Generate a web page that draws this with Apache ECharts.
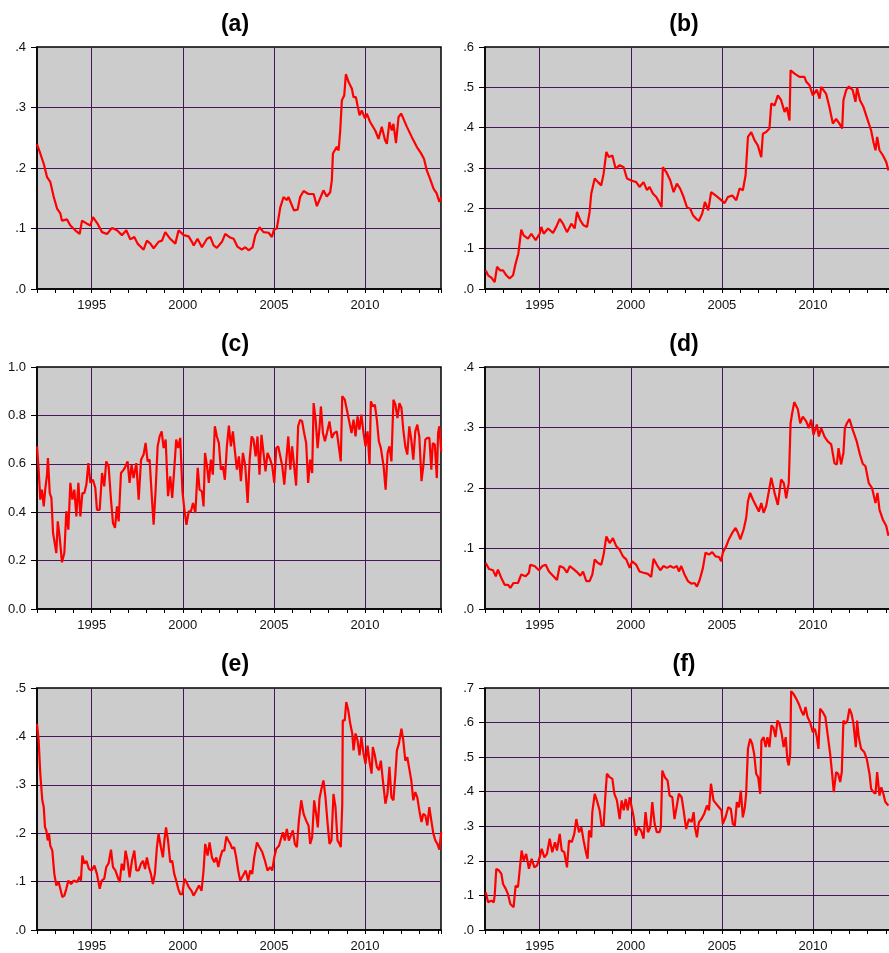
<!DOCTYPE html>
<html>
<head>
<meta charset="utf-8">
<script src="https://cdn.jsdelivr.net/npm/echarts@6/dist/echarts.min.js"></script>
<style>
  html, body { margin: 0; padding: 0; background: #fff; }
  #chart { width: 889px; height: 953px; }
</style>
</head>
<body>
<div id="chart"></div>
<script>
// panel titles and y-axis maxima
const panelTitles = ['(a)', '(b)', '(c)', '(d)', '(e)', '(f)']
const yMax = [0.4, 0.6, 1.0, 0.4, 0.5, 0.7]
const yStep = [0.1, 0.1, 0.2, 0.1, 0.1, 0.1]
const labelYears = [1995, 2000, 2005, 2010]

// [year, value]
const seriesA = [
  [1992.0, 0.239], [1992.18, 0.224], [1992.37, 0.207], [1992.55, 0.185], [1992.73, 0.177],
  [1992.92, 0.152], [1993.1, 0.133], [1993.28, 0.125], [1993.37, 0.113], [1993.65, 0.115],
  [1993.83, 0.105], [1994.1, 0.097], [1994.34, 0.091], [1994.47, 0.113], [1994.74, 0.108],
  [1994.93, 0.105], [1995.07, 0.119], [1995.3, 0.109], [1995.57, 0.094], [1995.84, 0.091],
  [1996.12, 0.101], [1996.39, 0.097], [1996.66, 0.089], [1996.9, 0.097], [1997.12, 0.082],
  [1997.34, 0.086], [1997.52, 0.075], [1997.85, 0.065], [1998.03, 0.080], [1998.22, 0.075],
  [1998.4, 0.067], [1998.67, 0.078], [1998.86, 0.080], [1999.04, 0.094], [1999.31, 0.083],
  [1999.59, 0.075], [1999.77, 0.097], [2000.05, 0.089], [2000.32, 0.087], [2000.5, 0.078],
  [2000.6, 0.072], [2000.81, 0.083], [2001.05, 0.069], [2001.33, 0.083], [2001.51, 0.086],
  [2001.69, 0.072], [2001.87, 0.068], [2002.15, 0.078], [2002.33, 0.091], [2002.6, 0.085],
  [2002.79, 0.083], [2003.0, 0.070], [2003.24, 0.065], [2003.43, 0.069], [2003.61, 0.064],
  [2003.83, 0.069], [2003.98, 0.089], [2004.21, 0.102], [2004.43, 0.094], [2004.71, 0.093],
  [2004.89, 0.086], [2005.0, 0.098], [2005.16, 0.100], [2005.35, 0.135], [2005.53, 0.152],
  [2005.7, 0.147], [2005.8, 0.152], [2006.1, 0.130], [2006.3, 0.131], [2006.44, 0.152],
  [2006.63, 0.162], [2006.9, 0.157], [2007.18, 0.157], [2007.36, 0.137], [2007.54, 0.150],
  [2007.72, 0.163], [2007.9, 0.153], [2008.09, 0.160], [2008.18, 0.180], [2008.24, 0.224],
  [2008.45, 0.235], [2008.55, 0.229], [2008.64, 0.262], [2008.73, 0.312], [2008.86, 0.320],
  [2008.95, 0.355], [2009.1, 0.342], [2009.28, 0.331], [2009.37, 0.317], [2009.5, 0.317],
  [2009.7, 0.287], [2009.82, 0.295], [2010.0, 0.282], [2010.1, 0.290], [2010.28, 0.276],
  [2010.56, 0.262], [2010.74, 0.248], [2010.92, 0.268], [2011.1, 0.246], [2011.2, 0.240],
  [2011.34, 0.276], [2011.47, 0.262], [2011.56, 0.273], [2011.7, 0.241], [2011.84, 0.284],
  [2011.98, 0.290], [2012.1, 0.282], [2012.3, 0.268], [2012.57, 0.251], [2012.84, 0.235],
  [2013.06, 0.225], [2013.24, 0.215], [2013.39, 0.196], [2013.57, 0.182], [2013.76, 0.166],
  [2013.93, 0.158], [2014.08, 0.144], [2014.18, 0.152]
]

const seriesB = [
  [1992.04, 0.046], [1992.17, 0.034], [1992.35, 0.028], [1992.53, 0.017], [1992.66, 0.055],
  [1992.84, 0.046], [1992.99, 0.046], [1993.17, 0.034], [1993.35, 0.026], [1993.54, 0.034],
  [1993.68, 0.063], [1993.83, 0.088], [1993.99, 0.147], [1994.12, 0.133], [1994.36, 0.125],
  [1994.54, 0.137], [1994.78, 0.121], [1995.0, 0.137], [1995.09, 0.154], [1995.22, 0.137],
  [1995.46, 0.150], [1995.73, 0.139], [1995.91, 0.154], [1996.1, 0.174], [1996.28, 0.162],
  [1996.5, 0.141], [1996.74, 0.162], [1996.92, 0.150], [1997.05, 0.191], [1997.23, 0.170],
  [1997.41, 0.158], [1997.6, 0.154], [1997.74, 0.191], [1997.83, 0.236], [1998.02, 0.274],
  [1998.2, 0.265], [1998.38, 0.257], [1998.51, 0.286], [1998.66, 0.340], [1998.8, 0.327],
  [1998.99, 0.331], [1999.17, 0.298], [1999.39, 0.307], [1999.61, 0.302], [1999.79, 0.274],
  [2000.03, 0.269], [2000.3, 0.265], [2000.48, 0.253], [2000.7, 0.265], [2000.89, 0.245],
  [2001.03, 0.253], [2001.22, 0.236], [2001.4, 0.228], [2001.58, 0.213], [2001.69, 0.203],
  [2001.76, 0.302], [2001.95, 0.290], [2002.17, 0.269], [2002.35, 0.240], [2002.53, 0.261],
  [2002.71, 0.249], [2002.9, 0.228], [2003.08, 0.203], [2003.26, 0.199], [2003.41, 0.183],
  [2003.59, 0.174], [2003.74, 0.169], [2003.92, 0.187], [2004.07, 0.216], [2004.25, 0.195],
  [2004.41, 0.240], [2004.65, 0.232], [2004.87, 0.224], [2005.15, 0.213], [2005.33, 0.228],
  [2005.57, 0.232], [2005.79, 0.220], [2005.97, 0.249], [2006.15, 0.245], [2006.3, 0.282],
  [2006.43, 0.377], [2006.61, 0.389], [2006.79, 0.369], [2006.97, 0.356], [2007.16, 0.327],
  [2007.25, 0.385], [2007.43, 0.389], [2007.61, 0.398], [2007.71, 0.460], [2007.89, 0.455],
  [2008.07, 0.480], [2008.25, 0.468], [2008.44, 0.439], [2008.56, 0.451], [2008.71, 0.418],
  [2008.77, 0.542], [2008.99, 0.534], [2009.26, 0.526], [2009.53, 0.526], [2009.63, 0.514],
  [2009.81, 0.505], [2009.99, 0.480], [2010.21, 0.494], [2010.36, 0.472], [2010.45, 0.501],
  [2010.72, 0.484], [2010.9, 0.451], [2011.09, 0.410], [2011.27, 0.422], [2011.45, 0.410],
  [2011.6, 0.398], [2011.67, 0.468], [2011.82, 0.493], [2011.97, 0.502], [2012.18, 0.493],
  [2012.33, 0.464], [2012.42, 0.499], [2012.58, 0.468], [2012.77, 0.451], [2012.95, 0.426],
  [2013.19, 0.393], [2013.32, 0.364], [2013.43, 0.344], [2013.52, 0.377], [2013.65, 0.344],
  [2013.84, 0.331], [2014.02, 0.315], [2014.14, 0.294]
]

const seriesC = [
  [1992.0, 0.672], [1992.09, 0.576], [1992.18, 0.452], [1992.27, 0.493], [1992.37, 0.424],
  [1992.46, 0.500], [1992.55, 0.555], [1992.6, 0.624], [1992.7, 0.479], [1992.79, 0.459],
  [1992.88, 0.314], [1992.97, 0.273], [1993.06, 0.231], [1993.14, 0.362], [1993.24, 0.300],
  [1993.37, 0.193], [1993.5, 0.231], [1993.61, 0.404], [1993.72, 0.328], [1993.83, 0.521],
  [1993.94, 0.452], [1994.05, 0.493], [1994.16, 0.383], [1994.27, 0.521], [1994.38, 0.383],
  [1994.49, 0.479], [1994.6, 0.479], [1994.71, 0.514], [1994.82, 0.603], [1994.93, 0.521],
  [1995.07, 0.534], [1995.2, 0.500], [1995.29, 0.410], [1995.44, 0.410], [1995.57, 0.562],
  [1995.69, 0.507], [1995.8, 0.610], [1995.93, 0.590], [1996.06, 0.452], [1996.17, 0.355],
  [1996.28, 0.335], [1996.39, 0.424], [1996.48, 0.362], [1996.61, 0.562], [1996.76, 0.576],
  [1996.86, 0.590], [1996.97, 0.610], [1997.08, 0.521], [1997.19, 0.596], [1997.3, 0.541],
  [1997.45, 0.603], [1997.58, 0.452], [1997.71, 0.617], [1997.85, 0.638], [1997.96, 0.686],
  [1998.07, 0.610], [1998.18, 0.617], [1998.31, 0.452], [1998.4, 0.348], [1998.51, 0.493],
  [1998.62, 0.672], [1998.73, 0.713], [1998.84, 0.734], [1998.95, 0.665], [1999.06, 0.700],
  [1999.19, 0.466], [1999.31, 0.548], [1999.42, 0.459], [1999.53, 0.576], [1999.64, 0.700],
  [1999.75, 0.665], [1999.86, 0.707], [1999.98, 0.486], [2000.09, 0.410], [2000.2, 0.348],
  [2000.33, 0.404], [2000.45, 0.404], [2000.56, 0.438], [2000.69, 0.397], [2000.82, 0.583],
  [2000.92, 0.493], [2001.05, 0.486], [2001.14, 0.424], [2001.22, 0.645], [2001.33, 0.590],
  [2001.43, 0.521], [2001.54, 0.617], [2001.65, 0.555], [2001.76, 0.755], [2001.87, 0.713],
  [2001.98, 0.686], [2002.09, 0.576], [2002.2, 0.590], [2002.31, 0.534], [2002.42, 0.672],
  [2002.53, 0.758], [2002.64, 0.672], [2002.75, 0.734], [2002.86, 0.652], [2002.97, 0.576],
  [2003.08, 0.631], [2003.19, 0.528], [2003.3, 0.645], [2003.43, 0.590], [2003.56, 0.438],
  [2003.67, 0.617], [2003.78, 0.713], [2003.88, 0.700], [2004.0, 0.631], [2004.1, 0.713],
  [2004.21, 0.555], [2004.32, 0.720], [2004.43, 0.645], [2004.54, 0.569], [2004.65, 0.645],
  [2004.8, 0.617], [2004.91, 0.590], [2005.02, 0.521], [2005.13, 0.665], [2005.24, 0.672],
  [2005.35, 0.631], [2005.46, 0.590], [2005.57, 0.514], [2005.68, 0.617], [2005.79, 0.713],
  [2005.9, 0.576], [2006.0, 0.672], [2006.11, 0.590], [2006.22, 0.510], [2006.33, 0.755],
  [2006.44, 0.782], [2006.55, 0.775], [2006.66, 0.727], [2006.77, 0.686], [2006.88, 0.521],
  [2006.99, 0.617], [2007.1, 0.562], [2007.18, 0.851], [2007.29, 0.782], [2007.4, 0.665],
  [2007.51, 0.755], [2007.58, 0.837], [2007.69, 0.727], [2007.8, 0.693], [2007.91, 0.727],
  [2008.05, 0.775], [2008.18, 0.707], [2008.31, 0.727], [2008.45, 0.734], [2008.56, 0.672],
  [2008.67, 0.610], [2008.75, 0.879], [2008.89, 0.865], [2009.04, 0.810], [2009.15, 0.769],
  [2009.26, 0.727], [2009.37, 0.782], [2009.48, 0.713], [2009.59, 0.796], [2009.69, 0.741],
  [2009.8, 0.803], [2009.92, 0.727], [2010.03, 0.672], [2010.14, 0.734], [2010.25, 0.596],
  [2010.32, 0.858], [2010.43, 0.837], [2010.54, 0.844], [2010.65, 0.782], [2010.76, 0.693],
  [2010.87, 0.665], [2011.02, 0.590], [2011.13, 0.493], [2011.24, 0.645], [2011.34, 0.672],
  [2011.45, 0.610], [2011.56, 0.865], [2011.67, 0.844], [2011.78, 0.789], [2011.89, 0.851],
  [2012.0, 0.831], [2012.1, 0.741], [2012.21, 0.672], [2012.32, 0.638], [2012.43, 0.755],
  [2012.54, 0.700], [2012.65, 0.617], [2012.76, 0.734], [2012.87, 0.762], [2012.98, 0.713],
  [2013.1, 0.528], [2013.2, 0.590], [2013.31, 0.700], [2013.42, 0.707], [2013.53, 0.707],
  [2013.64, 0.576], [2013.72, 0.686], [2013.83, 0.679], [2013.94, 0.541], [2014.01, 0.727],
  [2014.08, 0.755], [2014.18, 0.652]
]

const seriesD = [
  [1992.04, 0.076], [1992.22, 0.066], [1992.44, 0.064], [1992.59, 0.054], [1992.71, 0.065],
  [1992.9, 0.051], [1993.08, 0.040], [1993.26, 0.040], [1993.39, 0.035], [1993.57, 0.043],
  [1993.81, 0.043], [1993.99, 0.057], [1994.23, 0.054], [1994.41, 0.060], [1994.48, 0.073],
  [1994.72, 0.071], [1994.96, 0.064], [1995.15, 0.071], [1995.33, 0.073], [1995.51, 0.062],
  [1995.73, 0.055], [1995.95, 0.048], [1996.1, 0.071], [1996.32, 0.068], [1996.5, 0.060],
  [1996.65, 0.071], [1996.86, 0.066], [1997.05, 0.061], [1997.23, 0.055], [1997.38, 0.062],
  [1997.56, 0.046], [1997.74, 0.046], [1997.89, 0.057], [1998.02, 0.082], [1998.2, 0.076],
  [1998.38, 0.073], [1998.51, 0.090], [1998.66, 0.120], [1998.84, 0.109], [1999.02, 0.117],
  [1999.2, 0.104], [1999.39, 0.098], [1999.57, 0.087], [1999.75, 0.082], [1999.94, 0.068],
  [2000.08, 0.079], [2000.3, 0.073], [2000.48, 0.062], [2000.7, 0.060], [2000.94, 0.058],
  [2001.12, 0.053], [2001.25, 0.083], [2001.43, 0.073], [2001.62, 0.064], [2001.8, 0.071],
  [2001.98, 0.068], [2002.17, 0.071], [2002.35, 0.068], [2002.53, 0.071], [2002.64, 0.062],
  [2002.77, 0.071], [2002.95, 0.057], [2003.14, 0.046], [2003.32, 0.042], [2003.5, 0.043],
  [2003.63, 0.037], [2003.78, 0.048], [2003.96, 0.068], [2004.1, 0.093], [2004.29, 0.090],
  [2004.47, 0.094], [2004.65, 0.087], [2004.84, 0.086], [2004.96, 0.079], [2005.05, 0.093],
  [2005.24, 0.104], [2005.38, 0.115], [2005.57, 0.126], [2005.75, 0.134], [2005.88, 0.126],
  [2006.01, 0.115], [2006.19, 0.131], [2006.33, 0.150], [2006.43, 0.178], [2006.55, 0.192],
  [2006.7, 0.181], [2006.85, 0.172], [2007.03, 0.161], [2007.16, 0.175], [2007.29, 0.159],
  [2007.43, 0.170], [2007.61, 0.200], [2007.71, 0.217], [2007.89, 0.192], [2008.07, 0.172],
  [2008.25, 0.214], [2008.4, 0.208], [2008.53, 0.183], [2008.67, 0.208], [2008.77, 0.307],
  [2008.86, 0.324], [2008.97, 0.342], [2009.17, 0.330], [2009.3, 0.307], [2009.44, 0.318],
  [2009.63, 0.310], [2009.77, 0.299], [2009.9, 0.313], [2010.03, 0.288], [2010.21, 0.305],
  [2010.32, 0.285], [2010.45, 0.299], [2010.63, 0.285], [2010.81, 0.277], [2011.0, 0.272],
  [2011.18, 0.241], [2011.31, 0.239], [2011.4, 0.266], [2011.54, 0.239], [2011.67, 0.258],
  [2011.75, 0.299], [2011.86, 0.307], [2012.0, 0.314], [2012.18, 0.296], [2012.4, 0.277],
  [2012.58, 0.255], [2012.73, 0.240], [2012.88, 0.236], [2013.06, 0.208], [2013.24, 0.200],
  [2013.43, 0.175], [2013.54, 0.192], [2013.65, 0.164], [2013.83, 0.148], [2014.02, 0.137],
  [2014.14, 0.121]
]

const seriesE = [
  [1992.0, 0.426], [1992.09, 0.392], [1992.18, 0.323], [1992.29, 0.268], [1992.37, 0.254],
  [1992.44, 0.212], [1992.51, 0.206], [1992.59, 0.185], [1992.66, 0.199], [1992.73, 0.174],
  [1992.84, 0.164], [1992.95, 0.116], [1993.06, 0.092], [1993.19, 0.099], [1993.28, 0.085],
  [1993.39, 0.068], [1993.5, 0.071], [1993.61, 0.085], [1993.72, 0.102], [1993.87, 0.095],
  [1994.01, 0.102], [1994.2, 0.099], [1994.34, 0.110], [1994.41, 0.102], [1994.49, 0.154],
  [1994.6, 0.137], [1994.71, 0.143], [1994.85, 0.126], [1995.0, 0.123], [1995.15, 0.133],
  [1995.29, 0.116], [1995.44, 0.085], [1995.55, 0.102], [1995.69, 0.106], [1995.8, 0.130],
  [1995.93, 0.138], [1996.06, 0.166], [1996.17, 0.130], [1996.3, 0.123], [1996.43, 0.109],
  [1996.54, 0.099], [1996.65, 0.137], [1996.76, 0.123], [1996.86, 0.164], [1996.97, 0.143],
  [1997.08, 0.109], [1997.21, 0.143], [1997.34, 0.164], [1997.45, 0.123], [1997.58, 0.123],
  [1997.71, 0.137], [1997.82, 0.143], [1997.93, 0.126], [1998.03, 0.150], [1998.14, 0.130],
  [1998.25, 0.116], [1998.36, 0.095], [1998.47, 0.116], [1998.58, 0.171], [1998.67, 0.199],
  [1998.8, 0.171], [1998.91, 0.150], [1998.99, 0.185], [1999.08, 0.212], [1999.19, 0.185],
  [1999.31, 0.140], [1999.42, 0.143], [1999.53, 0.116], [1999.64, 0.102], [1999.75, 0.085],
  [1999.86, 0.074], [1999.98, 0.074], [2000.09, 0.106], [2000.2, 0.099], [2000.34, 0.088],
  [2000.48, 0.081], [2000.59, 0.071], [2000.74, 0.081], [2000.89, 0.092], [2001.03, 0.081],
  [2001.14, 0.123], [2001.23, 0.178], [2001.36, 0.154], [2001.47, 0.181], [2001.6, 0.150],
  [2001.73, 0.140], [2001.84, 0.150], [2001.95, 0.130], [2002.06, 0.150], [2002.17, 0.164],
  [2002.28, 0.164], [2002.39, 0.193], [2002.5, 0.185], [2002.61, 0.178], [2002.71, 0.168],
  [2002.82, 0.171], [2002.93, 0.150], [2003.04, 0.123], [2003.15, 0.102], [2003.3, 0.112],
  [2003.45, 0.123], [2003.59, 0.102], [2003.7, 0.123], [2003.81, 0.116], [2003.92, 0.150],
  [2004.07, 0.181], [2004.21, 0.171], [2004.36, 0.161], [2004.51, 0.143], [2004.65, 0.123],
  [2004.8, 0.130], [2004.91, 0.123], [2005.02, 0.150], [2005.13, 0.168], [2005.28, 0.174],
  [2005.38, 0.178], [2005.49, 0.202], [2005.6, 0.185], [2005.71, 0.209], [2005.82, 0.185],
  [2005.93, 0.195], [2006.04, 0.206], [2006.15, 0.178], [2006.26, 0.171], [2006.37, 0.226],
  [2006.5, 0.268], [2006.63, 0.240], [2006.77, 0.226], [2006.9, 0.216], [2006.99, 0.178],
  [2007.1, 0.192], [2007.21, 0.268], [2007.32, 0.240], [2007.41, 0.212], [2007.5, 0.271],
  [2007.61, 0.292], [2007.72, 0.309], [2007.83, 0.274], [2007.94, 0.223], [2008.05, 0.178],
  [2008.16, 0.185], [2008.27, 0.281], [2008.38, 0.254], [2008.49, 0.185], [2008.6, 0.178],
  [2008.67, 0.171], [2008.75, 0.257], [2008.78, 0.433], [2008.89, 0.433], [2008.97, 0.471],
  [2009.08, 0.454], [2009.19, 0.426], [2009.3, 0.406], [2009.37, 0.371], [2009.48, 0.406],
  [2009.59, 0.392], [2009.7, 0.361], [2009.8, 0.399], [2009.92, 0.364], [2010.03, 0.343],
  [2010.14, 0.381], [2010.25, 0.347], [2010.36, 0.323], [2010.43, 0.378], [2010.54, 0.361],
  [2010.65, 0.337], [2010.76, 0.330], [2010.87, 0.350], [2010.98, 0.309], [2011.12, 0.261],
  [2011.23, 0.281], [2011.34, 0.337], [2011.45, 0.274], [2011.56, 0.268], [2011.67, 0.323],
  [2011.75, 0.371], [2011.86, 0.385], [2012.0, 0.416], [2012.1, 0.392], [2012.21, 0.350],
  [2012.32, 0.357], [2012.43, 0.333], [2012.54, 0.309], [2012.65, 0.268], [2012.76, 0.285],
  [2012.87, 0.274], [2012.98, 0.247], [2013.1, 0.223], [2013.2, 0.240], [2013.31, 0.237],
  [2013.42, 0.216], [2013.53, 0.254], [2013.64, 0.226], [2013.75, 0.199], [2013.86, 0.185],
  [2013.97, 0.178], [2014.08, 0.166], [2014.18, 0.202]
]

const seriesF = [
  [1992.04, 0.109], [1992.17, 0.080], [1992.35, 0.085], [1992.48, 0.080], [1992.53, 0.099],
  [1992.62, 0.177], [1992.77, 0.172], [1992.9, 0.162], [1992.99, 0.133], [1993.14, 0.119],
  [1993.26, 0.104], [1993.39, 0.075], [1993.57, 0.066], [1993.68, 0.128], [1993.81, 0.124],
  [1993.9, 0.172], [1994.01, 0.230], [1994.12, 0.201], [1994.26, 0.220], [1994.41, 0.177],
  [1994.56, 0.206], [1994.71, 0.181], [1994.85, 0.186], [1995.0, 0.210], [1995.11, 0.235],
  [1995.26, 0.210], [1995.4, 0.220], [1995.55, 0.264], [1995.69, 0.225], [1995.84, 0.254],
  [1995.95, 0.230], [1996.1, 0.278], [1996.21, 0.230], [1996.35, 0.225], [1996.5, 0.181],
  [1996.61, 0.259], [1996.76, 0.254], [1996.9, 0.278], [1997.01, 0.321], [1997.16, 0.283],
  [1997.29, 0.297], [1997.41, 0.259], [1997.56, 0.220], [1997.63, 0.206], [1997.71, 0.288],
  [1997.83, 0.268], [1997.89, 0.341], [1998.02, 0.394], [1998.14, 0.375], [1998.29, 0.346],
  [1998.4, 0.302], [1998.51, 0.302], [1998.6, 0.384], [1998.69, 0.452], [1998.84, 0.442],
  [1998.99, 0.437], [1999.1, 0.394], [1999.24, 0.375], [1999.39, 0.321], [1999.5, 0.375],
  [1999.61, 0.346], [1999.72, 0.379], [1999.83, 0.346], [1999.94, 0.384], [2000.05, 0.355],
  [2000.16, 0.326], [2000.27, 0.273], [2000.41, 0.297], [2000.56, 0.288], [2000.7, 0.264],
  [2000.81, 0.341], [2000.94, 0.283], [2001.07, 0.297], [2001.18, 0.370], [2001.31, 0.307],
  [2001.43, 0.283], [2001.58, 0.283], [2001.65, 0.297], [2001.73, 0.461], [2001.87, 0.442],
  [2002.02, 0.432], [2002.13, 0.389], [2002.28, 0.384], [2002.4, 0.321], [2002.53, 0.360],
  [2002.64, 0.394], [2002.79, 0.384], [2002.9, 0.346], [2003.04, 0.292], [2003.19, 0.321],
  [2003.34, 0.312], [2003.45, 0.341], [2003.52, 0.297], [2003.63, 0.268], [2003.74, 0.312],
  [2003.88, 0.321], [2004.03, 0.336], [2004.18, 0.360], [2004.29, 0.346], [2004.4, 0.423],
  [2004.54, 0.375], [2004.69, 0.365], [2004.84, 0.355], [2004.98, 0.346], [2005.05, 0.307],
  [2005.2, 0.326], [2005.35, 0.355], [2005.49, 0.350], [2005.6, 0.307], [2005.71, 0.302],
  [2005.82, 0.370], [2005.93, 0.355], [2006.04, 0.403], [2006.15, 0.326], [2006.26, 0.355],
  [2006.33, 0.394], [2006.43, 0.524], [2006.55, 0.553], [2006.66, 0.539], [2006.77, 0.510],
  [2006.88, 0.452], [2006.99, 0.442], [2007.1, 0.394], [2007.17, 0.548], [2007.29, 0.558],
  [2007.4, 0.529], [2007.5, 0.558], [2007.61, 0.529], [2007.72, 0.592], [2007.83, 0.585],
  [2007.94, 0.558], [2008.05, 0.606], [2008.16, 0.597], [2008.28, 0.568], [2008.39, 0.529],
  [2008.5, 0.558], [2008.6, 0.490], [2008.67, 0.476], [2008.75, 0.510], [2008.8, 0.691],
  [2008.93, 0.683], [2009.08, 0.669], [2009.22, 0.654], [2009.35, 0.635], [2009.48, 0.621],
  [2009.59, 0.645], [2009.7, 0.616], [2009.84, 0.601], [2009.99, 0.572], [2010.1, 0.582],
  [2010.21, 0.558], [2010.3, 0.524], [2010.39, 0.640], [2010.54, 0.630], [2010.68, 0.616],
  [2010.81, 0.563], [2010.94, 0.510], [2011.05, 0.452], [2011.14, 0.399], [2011.27, 0.457],
  [2011.38, 0.452], [2011.49, 0.428], [2011.58, 0.457], [2011.67, 0.606], [2011.78, 0.597],
  [2011.89, 0.606], [2012.0, 0.640], [2012.11, 0.626], [2012.22, 0.597], [2012.35, 0.529],
  [2012.42, 0.606], [2012.51, 0.558], [2012.64, 0.524], [2012.82, 0.514], [2012.95, 0.495],
  [2013.1, 0.452], [2013.19, 0.408], [2013.32, 0.399], [2013.43, 0.394], [2013.52, 0.457],
  [2013.65, 0.389], [2013.75, 0.413], [2013.86, 0.394], [2013.97, 0.370], [2014.14, 0.360]
]

const allSeries = [seriesA, seriesB, seriesC, seriesD, seriesE, seriesF]

const FONT = '"Liberation Sans", Arial, sans-serif'
const GRID_PURPLE = '#46155a'
const NONE = 'rgba(0,0,0,0)'

// panel geometry (right column runs past the page edge, like the original)
const colLeft = [37, 485]
const colWidth = [404, 410]
const colMax = [2014.17, 2014.5]
const rowTop = [47, 367, 688]
const plotH = 242
const titleX = [230, 679]
const titleTop = [8, 328, 648]

const chart = echarts.init(document.getElementById('chart'), null, { renderer: 'canvas' })

const grids = []
const xAxes = []
const yAxes = []
const series = []
const titles = []

allSeries.forEach(function (data, i) {
  const col = i % 2
  const row = Math.floor(i / 2)

  titles.push({
    text: panelTitles[i],
    left: titleX[col],
    top: titleTop[row],
    textAlign: 'center',
    textStyle: { fontFamily: FONT, fontWeight: 'bold', fontSize: 23, color: '#000' }
  })

  grids.push({
    left: colLeft[col],
    top: rowTop[row],
    width: colWidth[col],
    height: plotH,
    // keep the rect as given, even if it runs off the page
    outerBoundsMode: 'none',
    containLabel: false,
    show: true,
    backgroundColor: '#cccccc',
    borderColor: '#000',
    borderWidth: 1.5
  })

  xAxes.push({
    type: 'value',
    gridIndex: i,
    min: 1992,
    max: colMax[col],
    interval: 1,
    axisLine: { show: true, onZero: false, lineStyle: { color: '#000', width: 1.5 } },
    axisTick: { show: true, inside: false, length: 4, lineStyle: { color: '#000' } },
    axisLabel: {
      margin: 10,
      fontFamily: FONT,
      fontSize: 13,
      color: '#111',
      formatter: function (v) {
        const r = Math.round(v)
        return Math.abs(v - r) < 1e-6 && labelYears.indexOf(r) >= 0 ? String(r) : ''
      }
    },
    // only every fifth year gets a vertical grid line
    splitLine: {
      show: true,
      showMaxLine: false,
      lineStyle: { color: [NONE, NONE, NONE, GRID_PURPLE, NONE], width: 1 }
    }
  })

  yAxes.push({
    type: 'value',
    gridIndex: i,
    min: 0,
    max: yMax[i],
    interval: yStep[i],
    axisLine: { show: true, lineStyle: { color: '#000', width: 1.5 } },
    axisTick: { show: true, inside: false, length: 6, lineStyle: { color: '#000' } },
    axisLabel: {
      margin: 11,
      fontFamily: FONT,
      fontSize: 13,
      color: '#111',
      formatter: function (v) {
        const s = v.toFixed(1)
        return yMax[i] >= 1 ? s : s.replace(/^0/, '')
      }
    },
    splitLine: {
      show: true,
      showMinLine: false,
      showMaxLine: false,
      lineStyle: { color: GRID_PURPLE, width: 1 }
    }
  })

  series.push({
    type: 'line',
    xAxisIndex: i,
    yAxisIndex: i,
    data: data,
    showSymbol: false,
    symbol: 'none',
    silent: true,
    lineStyle: { color: '#ff0000', width: 2.2 },
    z: 5
  })
})

chart.setOption({
  animation: false,
  backgroundColor: '#ffffff',
  title: titles,
  grid: grids,
  xAxis: xAxes,
  yAxis: yAxes,
  series: series
})
</script>
</body>
</html>
